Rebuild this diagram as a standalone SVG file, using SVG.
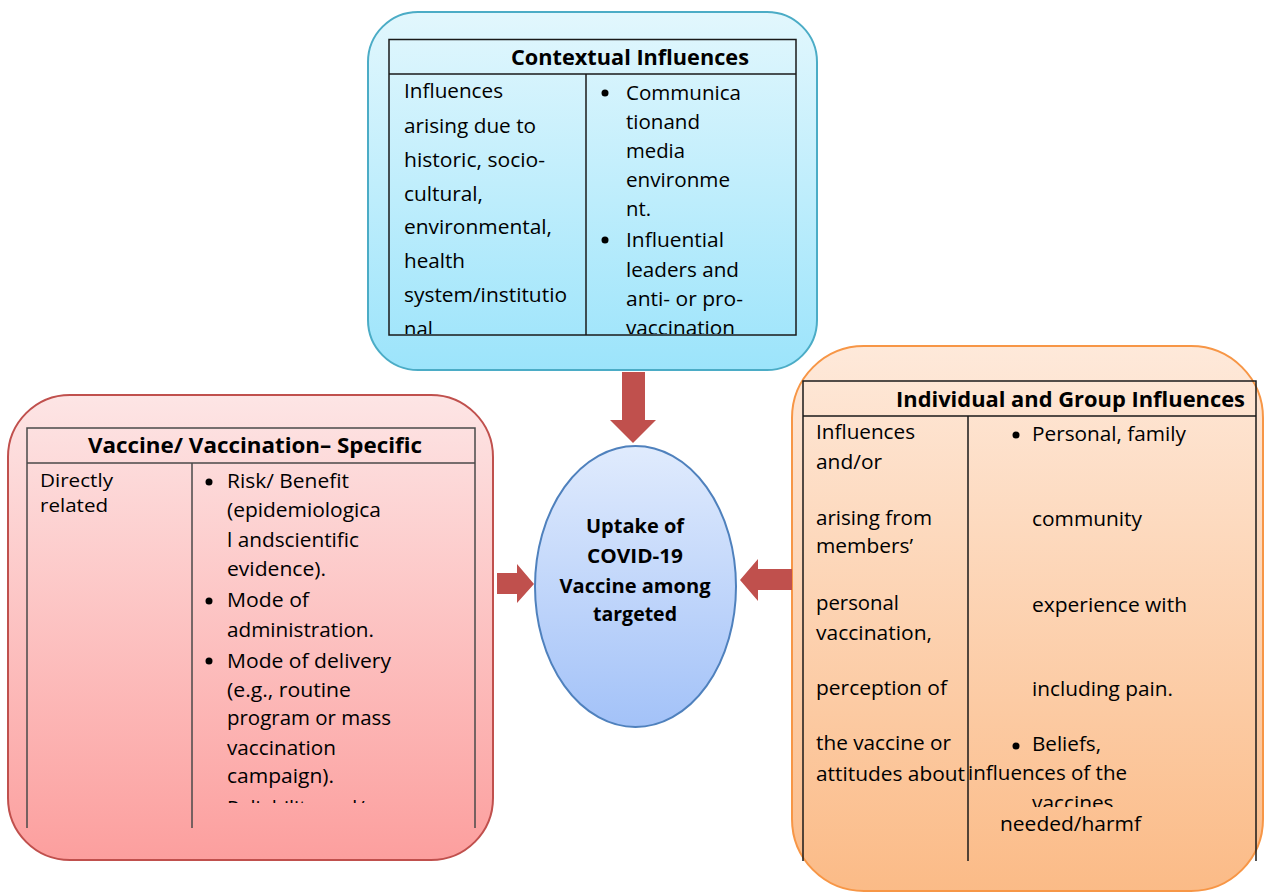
<svg xmlns="http://www.w3.org/2000/svg" width="1264" height="893" viewBox="0 0 1264 893">
<defs>
<linearGradient id="gBlue" x1="0" y1="0" x2="0" y2="1"><stop offset="0" stop-color="#E2F7FD"/><stop offset="1" stop-color="#9CE4FB"/></linearGradient>
<linearGradient id="gRed" x1="0" y1="0" x2="0" y2="1"><stop offset="0" stop-color="#FDE5E5"/><stop offset="1" stop-color="#FC9F9E"/></linearGradient>
<linearGradient id="gOrange" x1="0" y1="0" x2="0" y2="1"><stop offset="0" stop-color="#FEE9DA"/><stop offset="1" stop-color="#FBBB87"/></linearGradient>
<linearGradient id="gEll" x1="0" y1="0" x2="0" y2="1"><stop offset="0" stop-color="#E0EBFD"/><stop offset="1" stop-color="#A3C2F8"/></linearGradient>
<clipPath id="clipTop"><rect x="389" y="74" width="407" height="260"/></clipPath>
<clipPath id="clipRed"><rect x="192" y="463" width="283" height="340"/></clipPath>
<clipPath id="clipOrange"><rect x="968" y="790" width="288" height="17"/></clipPath>
</defs>
<style>
text{font-family:"Open Sans","Liberation Sans",sans-serif;fill:#000;}
.t{font-size:20px;}
.s{font-size:18px;}
.h{font-size:21px;font-weight:bold;}
.c{font-size:19px;font-weight:bold;text-anchor:middle;}
.grid{stroke:#1a1a1a;stroke-width:1.5;fill:none;}
.gridr{stroke:#4a4a4a;stroke-width:1.5;fill:none;}
.arrow{fill:#C0504D;}
</style>

<g id="contextual">
<rect x="368" y="12" width="449" height="358" rx="50" ry="50" fill="url(#gBlue)" stroke="#4BACC6" stroke-width="2"/>
<rect x="389" y="39.5" width="407" height="295.5" class="grid"/>
<line x1="389" y1="74" x2="796" y2="74" class="grid"/>
<line x1="586" y1="74" x2="586" y2="335" class="grid"/>
<text x="511" y="65" class="h" textLength="238" lengthAdjust="spacingAndGlyphs">Contextual Influences</text>
<g clip-path="url(#clipTop)">
<text x="404" y="98" class="t" textLength="99" lengthAdjust="spacingAndGlyphs">Influences</text>
<text x="404" y="133" class="t" textLength="132" lengthAdjust="spacingAndGlyphs">arising due to</text>
<text x="404" y="167" class="t" textLength="141" lengthAdjust="spacingAndGlyphs">historic, socio-</text>
<text x="404" y="201" class="t" textLength="79" lengthAdjust="spacingAndGlyphs">cultural,</text>
<text x="404" y="234" class="t" textLength="148" lengthAdjust="spacingAndGlyphs">environmental,</text>
<text x="404" y="268" class="t" textLength="61" lengthAdjust="spacingAndGlyphs">health</text>
<text x="404" y="302" class="t" textLength="163" lengthAdjust="spacingAndGlyphs">system/institutio</text>
<text x="404" y="336" class="t" textLength="34" lengthAdjust="spacingAndGlyphs">nal,</text>
<circle cx="605" cy="93" r="3.5"/>
<text x="626" y="100" class="t" textLength="115" lengthAdjust="spacingAndGlyphs">Communica</text>
<text x="626" y="129" class="t" textLength="74" lengthAdjust="spacingAndGlyphs">tionand</text>
<text x="626" y="158" class="t" textLength="59" lengthAdjust="spacingAndGlyphs">media</text>
<text x="626" y="187" class="t" textLength="104" lengthAdjust="spacingAndGlyphs">environme</text>
<text x="626" y="216" class="t" textLength="25" lengthAdjust="spacingAndGlyphs">nt.</text>
<circle cx="605" cy="240" r="3.5"/>
<text x="626" y="247" class="t" textLength="98" lengthAdjust="spacingAndGlyphs">Influential</text>
<text x="626" y="277" class="t" textLength="113" lengthAdjust="spacingAndGlyphs">leaders and</text>
<text x="626" y="306" class="t" textLength="117" lengthAdjust="spacingAndGlyphs">anti- or pro-</text>
<text x="626" y="335" class="t" textLength="109" lengthAdjust="spacingAndGlyphs">vaccination</text>
</g>
</g>

<g id="vaccine-specific">
<rect x="8" y="395" width="485" height="465" rx="62" ry="62" fill="url(#gRed)" stroke="#C0504D" stroke-width="2"/>
<path d="M27,828 V428 H475 V828 M27,463 H475 M192,463 V828" class="gridr"/>
<text x="88" y="453" class="h" textLength="334" lengthAdjust="spacingAndGlyphs">Vaccine/ Vaccination– Specific</text>
<text x="40" y="487" class="s" textLength="73" lengthAdjust="spacingAndGlyphs">Directly</text>
<text x="40" y="512" class="s" textLength="68" lengthAdjust="spacingAndGlyphs">related</text>
<g clip-path="url(#clipRed)">
<circle cx="209" cy="482" r="3.5"/>
<text x="227" y="488" class="t" textLength="122" lengthAdjust="spacingAndGlyphs">Risk/ Benefit</text>
<text x="227" y="517" class="t" textLength="154" lengthAdjust="spacingAndGlyphs">(epidemiologica</text>
<text x="227" y="547" class="t" textLength="132" lengthAdjust="spacingAndGlyphs">l andscientific</text>
<text x="227" y="576" class="t" textLength="99" lengthAdjust="spacingAndGlyphs">evidence).</text>
<circle cx="209" cy="601" r="3.5"/>
<text x="227" y="607" class="t" textLength="82" lengthAdjust="spacingAndGlyphs">Mode of</text>
<text x="227" y="637" class="t" textLength="147" lengthAdjust="spacingAndGlyphs">administration.</text>
<circle cx="209" cy="661" r="3.5"/>
<text x="227" y="668" class="t" textLength="164" lengthAdjust="spacingAndGlyphs">Mode of delivery</text>
<text x="227" y="697" class="t" textLength="124" lengthAdjust="spacingAndGlyphs">(e.g., routine</text>
<text x="227" y="725" class="t" textLength="164" lengthAdjust="spacingAndGlyphs">program or mass</text>
<text x="227" y="755" class="t" textLength="109" lengthAdjust="spacingAndGlyphs">vaccination</text>
<text x="227" y="783" class="t" textLength="107" lengthAdjust="spacingAndGlyphs">campaign).</text>
<circle cx="209" cy="808" r="3.5"/>
<text x="227" y="815" class="t">Reliability and/or</text>
</g>
</g>

<g id="individual-group">
<rect x="792" y="346" width="471" height="545" rx="72" ry="72" fill="url(#gOrange)" stroke="#F79646" stroke-width="2"/>
<path d="M803,861 V381 H1256 V861 M803,416 H1256 M968,416 V861" class="grid"/>
<text x="896" y="407" class="h" textLength="349" lengthAdjust="spacingAndGlyphs">Individual and Group Influences</text>
<text x="816" y="439" class="t" textLength="99" lengthAdjust="spacingAndGlyphs">Influences</text>
<text x="816" y="469" class="t" textLength="66" lengthAdjust="spacingAndGlyphs">and/or</text>
<text x="816" y="525" class="t" textLength="116" lengthAdjust="spacingAndGlyphs">arising from</text>
<text x="816" y="553" class="t" textLength="97" lengthAdjust="spacingAndGlyphs">members’</text>
<text x="816" y="610" class="t" textLength="83" lengthAdjust="spacingAndGlyphs">personal</text>
<text x="816" y="640" class="t" textLength="116" lengthAdjust="spacingAndGlyphs">vaccination,</text>
<text x="816" y="695" class="t" textLength="131" lengthAdjust="spacingAndGlyphs">perception of</text>
<text x="816" y="750" class="t" textLength="135" lengthAdjust="spacingAndGlyphs">the vaccine or</text>
<text x="816" y="781" class="t" textLength="149" lengthAdjust="spacingAndGlyphs">attitudes about</text>
<circle cx="1016" cy="435" r="3.5"/>
<text x="1032" y="441" class="t" textLength="154" lengthAdjust="spacingAndGlyphs">Personal, family</text>
<text x="1032" y="526" class="t" textLength="110" lengthAdjust="spacingAndGlyphs">community</text>
<text x="1032" y="612" class="t" textLength="155" lengthAdjust="spacingAndGlyphs">experience with</text>
<text x="1032" y="696" class="t" textLength="141" lengthAdjust="spacingAndGlyphs">including pain.</text>
<circle cx="1016" cy="746" r="3.5"/>
<text x="1032" y="751" class="t" textLength="69" lengthAdjust="spacingAndGlyphs">Beliefs,</text>
<text x="968" y="780" class="t" textLength="159" lengthAdjust="spacingAndGlyphs">influences of the</text>
<text x="1032" y="810" class="t" textLength="87" lengthAdjust="spacingAndGlyphs" clip-path="url(#clipOrange)">vaccines.</text>
<text x="1000" y="831" class="t" textLength="141" lengthAdjust="spacingAndGlyphs">needed/harmf</text>
</g>

<g id="uptake">
<ellipse cx="635.5" cy="586.5" rx="100.5" ry="140.5" fill="url(#gEll)" stroke="#4F81BD" stroke-width="2"/>
<text x="635" y="533" class="c" textLength="98" lengthAdjust="spacingAndGlyphs">Uptake of</text>
<text x="635" y="563" class="c" textLength="96" lengthAdjust="spacingAndGlyphs">COVID-19</text>
<text x="635" y="593" class="c" textLength="151" lengthAdjust="spacingAndGlyphs">Vaccine among</text>
<text x="635" y="621" class="c" textLength="84" lengthAdjust="spacingAndGlyphs">targeted</text>
</g>

<g id="connectors">
<polygon class="arrow" points="622,372 645,372 645,420 656,420 633,443 610,420 622,420"/>
<polygon class="arrow" points="497,573 517,573 517,564 534,584 517,603 517,594 497,594"/>
<polygon class="arrow" points="792,569 758,569 758,559 740,580 758,601 758,590 792,590"/>
</g>
</svg>
